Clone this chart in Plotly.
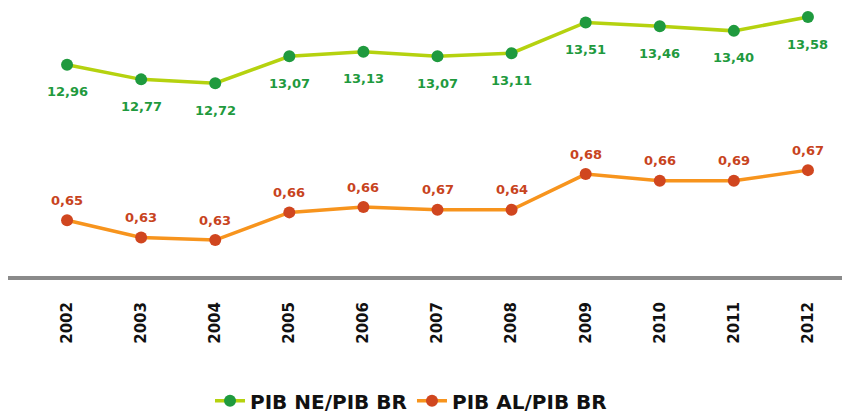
import plotly.graph_objects as go

years = ["2002", "2003", "2004", "2005", "2006", "2007", "2008", "2009", "2010", "2011", "2012"]

# PIB NE / PIB BR (%)
ne_br = [12.96, 12.77, 12.72, 13.07, 13.13, 13.07, 13.11, 13.51, 13.46, 13.40, 13.58]
ne_labels = ["12,96", "12,77", "12,72", "13,07", "13,13", "13,07", "13,11", "13,51", "13,46", "13,40", "13,58"]

# PIB AL / PIB BR (%) - point heights, labels as printed
al_br = [0.645, 0.632, 0.630, 0.651, 0.655, 0.653, 0.653, 0.680, 0.675, 0.675, 0.683]
al_labels = ["0,65", "0,63", "0,63", "0,66", "0,66", "0,67", "0,64", "0,68", "0,66", "0,69", "0,67"]

font_fam = "DejaVu Sans, Verdana, sans-serif"
green_txt = "#1f9a3e"
orange_txt = "#c8441e"

fig = go.Figure()

fig.add_trace(go.Scatter(
    x=years, y=ne_br, name="PIB NE/PIB BR",
    mode="lines+markers",
    line=dict(color="#b5d20f", width=3.5),
    marker=dict(color="#1f9a3e", size=12),
))

fig.add_trace(go.Scatter(
    x=years, y=al_br, name="PIB AL/PIB BR", yaxis="y2",
    mode="lines+markers",
    line=dict(color="#f7941d", width=3.5),
    marker=dict(color="#d0461f", size=12),
))

# value labels (green below, orange above the points); category axis -> index
for i, (v, lab) in enumerate(zip(ne_br, ne_labels)):
    fig.add_annotation(x=i, y=v, xref="x", yref="y", text=lab, showarrow=False, yshift=-27,
                       font=dict(family=font_fam, size=13, color=green_txt, weight="bold"))
for i, (v, lab) in enumerate(zip(al_br, al_labels)):
    fig.add_annotation(x=i, y=v, xref="x", yref="y2", text=lab, showarrow=False, yshift=20,
                       font=dict(family=font_fam, size=13, color=orange_txt, weight="bold"))

# grey baseline under the plot, running edge to edge
fig.add_shape(type="line", xref="paper", yref="paper",
              x0=-0.027, x1=1.016, y0=0, y1=0,
              line=dict(color="#8a8a8a", width=4))

# the page body adds an 8px offset, margins compensate for it
fig.update_layout(
    width=850, height=413,
    margin=dict(l=22, r=13, t=0, b=143, autoexpand=False),
    plot_bgcolor="white", paper_bgcolor="white",
    showlegend=True,
    legend=dict(orientation="h", x=0.4675, xanchor="center", y=-0.455, yanchor="middle",
                itemwidth=30,
                font=dict(family=font_fam, size=20, color="#111111", weight="bold")),
    xaxis=dict(type="category", range=[-0.5, 10.5], showgrid=False, zeroline=False,
               showline=False, automargin=False,
               tickangle=-90, ticks="outside", ticklen=17, tickcolor="rgba(0,0,0,0)",
               tickfont=dict(family=font_fam, size=15, color="#111111", weight="bold")),
    yaxis=dict(range=[10.19, 13.697], visible=False),
    yaxis2=dict(range=[0.6013, 0.8058], overlaying="y", visible=False),
)

fig.write_html("out.html")
